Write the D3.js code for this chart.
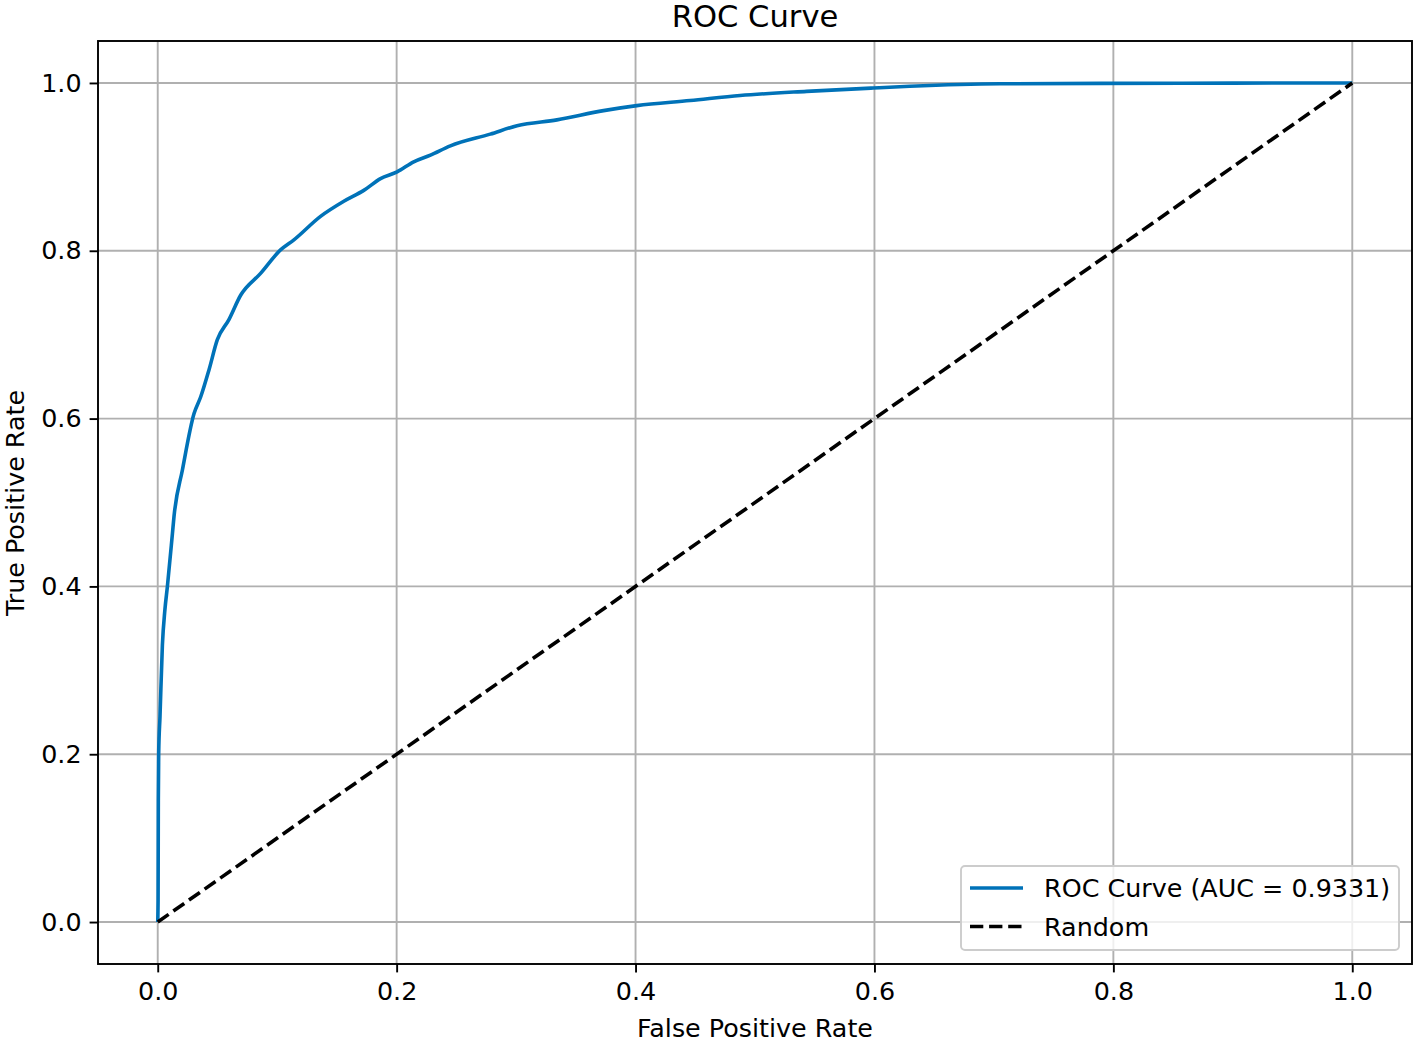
<!DOCTYPE html>
<html>
<head>
<meta charset="utf-8">
<script src="https://cdn.jsdelivr.net/npm/d3@7"></script>
<style>
  body { margin: 0; background: #fff; }
  text { font-family: "DejaVu Sans", sans-serif; fill: #000; }
</style>
</head>
<body>
<div id="chart"></div>
<script>
"use strict";
// roc points
const fpr = [0, 0.0003, 0.0005, 0.0008, 0.0019, 0.0039, 0.0060, 0.0081, 0.0123, 0.0136, 0.0207,
  0.0304, 0.0360, 0.0429, 0.0499, 0.0596, 0.0694, 0.0861, 0.1028, 0.1140, 0.1363, 0.1558, 0.1725,
  0.1865, 0.2004, 0.2143, 0.2283, 0.2450, 0.2784, 0.3008, 0.3342, 0.3732, 0.4011, 0.4457, 0.4875,
  0.5432, 0.5989, 0.6296, 0.7050, 0.7900, 0.9000, 1.0];
const tpr = [0, 0.026, 0.145, 0.201, 0.245, 0.330, 0.372, 0.400, 0.463, 0.483, 0.539,
  0.606, 0.626, 0.658, 0.694, 0.718, 0.747, 0.773, 0.801, 0.813, 0.841, 0.859, 0.872,
  0.886, 0.894, 0.906, 0.914, 0.925, 0.939, 0.949, 0.956, 0.967, 0.973, 0.979, 0.985,
  0.990, 0.994, 0.996, 0.999, 0.9995, 0.9998, 1.0];
const randomLine = [[0, 0], [1, 1]];
const ticks = [0, 0.2, 0.4, 0.6, 0.8, 1.0];
const legendLabels = ["ROC Curve (AUC = 0.9331)", "Random"];

const W = 1417, H = 1042;
const m = { left: 98, right: 1412, top: 41, bottom: 964 };
const BLUE = "#0072b8";
const FS = 25.4;

const svg = d3.select("#chart").append("svg")
  .attr("width", W).attr("height", H);

const x = d3.scaleLinear().domain([-0.05, 1.05]).range([m.left, m.right]);
const y = d3.scaleLinear().domain([-0.05, 1.05]).range([m.bottom, m.top]);

// grid
const grid = svg.append("g").attr("class", "grid")
  .style("stroke", "#b0b0b0").style("stroke-width", "1.9px");
grid.selectAll("line.v").data(ticks).enter().append("line")
  .attr("class", "v")
  .attr("x1", d => x(d)).attr("x2", d => x(d))
  .attr("y1", m.top).attr("y2", m.bottom);
grid.selectAll("line.h").data(ticks).enter().append("line")
  .attr("class", "h")
  .attr("y1", d => y(d)).attr("y2", d => y(d))
  .attr("x1", m.left).attr("x2", m.right);

// lines
const line = d3.line().x(d => x(d[0])).y(d => y(d[1])).curve(d3.curveMonotoneX);
const roc = fpr.map((f, i) => [f, tpr[i]]);

svg.append("path").datum(roc)
  .attr("d", line)
  .style("fill", "none")
  .style("stroke", BLUE)
  .style("stroke-width", "3.6px")
  .style("stroke-linejoin", "round");

svg.append("path").datum(randomLine)
  .attr("d", d3.line().x(d => x(d[0])).y(d => y(d[1])))
  .style("fill", "none")
  .style("stroke", "#000")
  .style("stroke-width", "3.6px")
  .style("stroke-dasharray", "13.3,5.8");

// axes
const xAxis = d3.axisBottom(x).tickValues(ticks).tickFormat(d3.format(".1f"))
  .tickSize(8.4).tickPadding(8);
const yAxis = d3.axisLeft(y).tickValues(ticks).tickFormat(d3.format(".1f"))
  .tickSize(8.4).tickPadding(8);

const gx = svg.append("g").attr("transform", `translate(0,${m.bottom})`).call(xAxis);
const gy = svg.append("g").attr("transform", `translate(${m.left},0)`).call(yAxis);
[gx, gy].forEach(g => {
  g.select(".domain").remove();
  g.selectAll(".tick line").style("stroke", "#000").style("stroke-width", "1.9px");
  g.selectAll(".tick text").style("font-size", FS + "px").style("font-family", "DejaVu Sans");
});
gx.selectAll(".tick text").attr("dy", "0.78em");

// spines
svg.append("rect")
  .attr("x", m.left).attr("y", m.top)
  .attr("width", m.right - m.left).attr("height", m.bottom - m.top)
  .style("fill", "none").style("stroke", "#000").style("stroke-width", "1.9px");

// labels
svg.append("text").attr("x", (m.left + m.right) / 2).attr("y", 26.5)
  .attr("text-anchor", "middle").style("font-size", "30.6px").text("ROC Curve");
svg.append("text").attr("x", (m.left + m.right) / 2).attr("y", 1037)
  .attr("text-anchor", "middle").style("font-size", FS + "px").text("False Positive Rate");
svg.append("text").attr("transform", "translate(24,503) rotate(-90)")
  .attr("text-anchor", "middle").style("font-size", FS + "px").text("True Positive Rate");

// legend
const lg = svg.append("g").attr("class", "legend");
lg.append("rect")
  .attr("x", 961).attr("y", 866).attr("width", 438).attr("height", 84)
  .attr("rx", 4).attr("ry", 4)
  .style("fill", "rgba(255,255,255,0.8)")
  .style("stroke", "#cccccc").style("stroke-width", "1.9px");
const rows = lg.selectAll("g.row").data(legendLabels).enter().append("g")
  .attr("class", "row")
  .attr("transform", (d, i) => `translate(970,${888 + i * 38.5})`);
rows.append("line")
  .attr("x1", 0).attr("x2", 53).attr("y1", 0).attr("y2", 0)
  .style("stroke", (d, i) => i === 0 ? BLUE : "#000")
  .style("stroke-width", "3.6px")
  .style("stroke-dasharray", (d, i) => i === 0 ? null : "13.3,5.8");
rows.append("text")
  .attr("x", 74).attr("y", 0).attr("dy", "0.36em")
  .style("font-size", FS + "px")
  .text(d => d);
</script>
</body>
</html>
